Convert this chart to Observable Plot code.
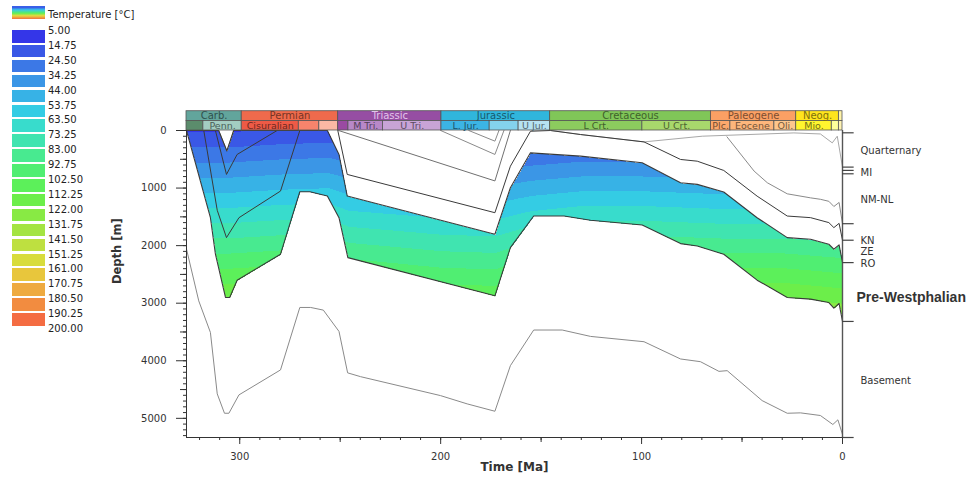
<!DOCTYPE html>
<html>
<head>
<meta charset="utf-8">
<script src="https://cdn.jsdelivr.net/npm/d3@7"></script>
<script src="https://cdn.jsdelivr.net/npm/@observablehq/plot@0.6"></script>
<style>
  body { margin: 0; background: #fff; font-family: "DejaVu Sans", Verdana, sans-serif; }
  #wrap { position: relative; width: 979px; height: 482px; overflow: hidden; }
  #chart { position: absolute; left: 0; top: 0; }
  #legend { position: absolute; left: 0; top: 0; width: 170px; height: 345px; font-size: 10px; color: #222; white-space: nowrap; }
  #legend .sw { position: absolute; left: 12px; width: 33px; height: 12.5px; }
  #legend .lb { position: absolute; left: 48px; line-height: 12px; transform: translateY(-50%); }
  #legend .head { position: absolute; left: 12px; top: 6px; width: 33px; height: 13px;
    background: linear-gradient(#3a5fe8 0 12%, #38c8e8 30%, #5af05a 55%, #e8d83c 75%, #f07040 100%); }
  #legend .title { position: absolute; left: 48px; top: 14px; transform: translateY(-50%); font-size: 10px; }
</style>
</head>
<body>
<div id="wrap"><div id="chart"></div><div id="legend"></div></div>
<script>
// ---------- temperature classes ----------
const legendValues = ["5.00","14.75","24.50","34.25","44.00","53.75","63.50","73.25","83.00","92.75",
  "102.50","112.25","122.00","131.75","141.50","151.25","161.00","170.75","180.50","190.25","200.00"];
const legendColors = ["#3436e8","#3a58e6","#3c78e6","#3b96e6","#37b2e6","#34cce4","#38dccc","#40e4b0",
  "#48ea90","#50ee72","#5cf05a","#6cee4a","#88ea44","#a4e442","#bee040","#d8dc3c","#e8c63c","#eeaa40",
  "#f28c40","#f46c42"];

// ---------- geological time scale (Ma) ----------
const periodNames  = ["Carb.","Permian","Triassic","Jurassic","Cretaceous","Paleogene","Neog.",""];
const periodStart  = [326.5, 299.0, 251.0, 199.6, 145.5, 65.5, 23.03, 1.8];
const periodEnd    = [299.0, 251.0, 199.6, 145.5, 65.5, 23.03, 1.8, 0];
const periodColors = ["#62a59c","#ef6a4c","#964ea3","#30b6dc","#80c658","#fba064","#ffe41e","#fff3a8"];

const epochNames  = ["","Penn.","Cisuralian","","","","M Tri.","U Tri.","L. Jur.","","U Jur.","L Crt.","U Crt.","Plc.","Eocene","Oli.","Mio.","",""];
const epochStart  = [326.5,318.1,299.0,270.6,260.4,251.0,245.9,228.7,199.6,175.6,161.2,145.5,99.6,65.5,55.8,33.9,23.03,5.33,1.8];
const epochEnd    = [318.1,299.0,270.6,260.4,251.0,245.9,228.7,199.6,175.6,161.2,145.5,99.6,65.5,55.8,33.9,23.03,5.33,1.8,0];
const epochColors = ["#5b8c6c","#a3cdc2","#ee5a46","#f7846c","#fbb8a4","#9a4aa2","#b888c8","#c8a4d6",
  "#3cb4e4","#84d2ec","#b6e2f2","#8ccc5e","#a8d86c","#fda86c","#fdb67c","#fdc68c","#fff52e","#ffff9a","#fff3b4"];

// ---------- burial history: horizons as [age Ma, depth m] ----------
const layerTop = [[326.5,0],[310.5,0],[306.4,355],[303.0,0],[256.4,0],[250.6,417],[246.5,1139],[173.0,1803],
  [165.3,995],[155.3,388],[130.4,445],[99.7,561],[80.6,908],[72.3,936],[59.1,1069],[42.5,1515],[27.5,1861],
  [15.9,1889],[6.8,1976],[4.3,2062],[1.7,1988],[0,2290]];
const layerBase = [[326.5,0],[314.6,1515],[312.1,2149],[307.1,2901],[305.0,2901],[301.3,2600],[279.7,2149],
  [270.1,1064],[265.1,1064],[256.4,1139],[250.6,1515],[246.2,2208],[173.0,2872],[165.3,2035],[153.7,1485],
  [138.6,1485],[125.4,1560],[99.7,1641],[80.6,1965],[72.3,2005],[59.1,2149],[42.5,2600],[27.5,2901],
  [15.9,2929],[6.8,2988],[4.3,3085],[1.7,3005],[0,3317]];
const basementBase = [[326.5,2060],[320.4,2960],[314.6,3508],[311.2,4575],[307.6,4912],[305.4,4912],[300.4,4593],
  [279.7,4159],[270.1,3074],[264.7,3074],[258.4,3120],[250.6,3490],[246.3,4210],[239.9,4276],[200.1,4605],
  [186.8,4749],[173.0,4877],[165.3,4085],[153.7,3466],[139.5,3466],[125.4,3577],[98.8,3669],[80.6,3969],
  [70.7,4016],[61.5,4184],[57.4,4172],[40.0,4692],[27.5,4912],[20.9,4905],[11.0,4951],[4.8,5107],[2.3,5026],[0,5280]];
const carbHorizonA = [[317.9,0],[311.2,1386],[306.6,1861],[300.4,1515],[279.7,1052],[270.1,0]];
const carbHorizonB = [[312.1,0],[306.6,763],[301.3,416],[281.4,0]];
const carbErosion  = [[310.5,0],[306.4,355],[303.0,0]];
// top of the Triassic: follows the shaded layer ~375 m above it until today
const triasTop = [[251.2,0],[246.5,763],[173.0,1428],[165.3,620],[155.3,13],[145.3,0],[130.4,70],[98.8,198],
  [80.6,503],[72.3,533],[59.1,694],[42.5,1140],[27.5,1486],[15.9,1514],[6.8,1600],[4.3,1687],[1.7,1613],[0,1906]];
const triasMid  = [[250.8,0],[173.0,876],[165.3,0]];
const jurassicA = [[200.0,0],[173.0,416],[168.5,0]];
const jurassicB = [[186.0,0],[173.0,185],[171.0,0]];
const chalkTop  = [[145.3,0],[130.4,70],[98.8,198],[69.8,99],[24.2,42],[11.0,60],[5.1,215],[2.6,99],[0,636]];
const tertiaryTop = [[57.5,110],[44.0,705],[37.4,908],[27.5,1100],[15.9,1170],[11.0,1195],[6.8,1230],[4.3,1320],[1.7,1250],[0,1619]];

// ---------- paleo-temperature: surface temperature and gradient through time ----------
const thermalAges    = [326.5, 305, 280, 256, 246, 200, 173, 155, 130, 100, 60, 30, 0];
const surfaceTemp    = [14, 14, 16, 17, 15, 12, 11, 12, 14, 14, 12, 12, 11];
const thermalGrad    = [37, 37, 37, 37, 35, 34, 34, 37, 38, 38, 38, 38, 37]; // °C per km

// ---------- present-day formations (right margin) ----------
const formNames  = ["Quarternary","MI","NM-NL","KN","ZE","RO","Basement"];
const formDepths = [358, 735, 1208, 1919, 2109, 2312, 4345];
const formTicks  = [40, 636, 693, 752, 1619, 1906, 2295, 3317, 5333];

// ---------- derived ----------
const X0 = 326.5, Y1 = 5333;
const BAR_TOP = -335, BAR_MID = -165, BAR_BOTTOM = 0;
const thresholds = legendValues.slice(1, -1).map(Number);
const regionPolygon = [...layerTop, ...layerBase.slice().reverse()];
const gAt = d3.scaleLinear().domain(thermalAges.slice().reverse()).range(thermalGrad.slice().reverse()).clamp(true);
const tAt = d3.scaleLinear().domain(thermalAges.slice().reverse()).range(surfaceTemp.slice().reverse()).clamp(true);
const temperature = (age, depth) =>
  d3.polygonContains(regionPolygon, [age, depth]) ? tAt(age) + gAt(age) * depth / 1000 : undefined;

const toRows = pts => pts.map(([age, depth]) => ({age, depth}));
const dark = "#3a3a3a", grey = "#8a8a8a", light = "#a8a8a8";
const line = (pts, stroke, w = 1) => Plot.line(toRows(pts), {x: "age", y: "depth", stroke, strokeWidth: w});

const chart = Plot.plot({
  width: 979, height: 482,
  marginLeft: 186, marginRight: 137, marginTop: 130, marginBottom: 45,
  style: {fontFamily: "'DejaVu Sans', Verdana, sans-serif", fontSize: "10px", color: "#333", background: "transparent"},
  x: {domain: [X0, 0], axis: null},
  y: {domain: [0, Y1], reverse: true, axis: null},
  color: {type: "threshold", domain: thresholds, range: legendColors},
  marks: [
    Plot.raster({x1: X0, x2: 0, y1: 0, y2: Y1, fill: temperature, pixelSize: 1, imageRendering: "pixelated"}),
    line(carbErosion, grey), line(triasMid, "#707070"), line(jurassicA, grey), line(jurassicB, grey),
    line(chalkTop, light), line(tertiaryTop, grey),
    line(basementBase, grey),
    line(triasTop, dark), line(carbHorizonA, dark), line(carbHorizonB, dark),
    line(layerTop, dark, 1.1), line(layerBase, dark, 1.1),
    // time scale bar
    ...periodNames.map((n, i) => Plot.rect([i], {x1: periodStart[i], x2: periodEnd[i], y1: BAR_TOP, y2: BAR_MID,
      fill: periodColors[i], stroke: "#555", strokeWidth: 0.8})),
    ...epochNames.map((n, i) => Plot.rect([i], {x1: epochStart[i], x2: epochEnd[i], y1: BAR_MID, y2: BAR_BOTTOM,
      fill: epochColors[i], stroke: "#555", strokeWidth: 0.8})),
    ...periodNames.map((n, i) => Plot.text([n], {x: (periodStart[i] + periodEnd[i]) / 2, y: (BAR_TOP + BAR_MID) / 2,
      text: d => d, fontSize: 10, fill: i === 2 ? "#e2c4ea" : d3.color(periodColors[i]).darker(2).formatHex()})),
    ...epochNames.map((n, i) => Plot.text([n], {x: (epochStart[i] + epochEnd[i]) / 2, y: (BAR_MID + BAR_BOTTOM) / 2,
      text: d => d, fontSize: 9.5, fill: d3.color(epochColors[i]).darker(2.2).formatHex()})),
    // axes
    Plot.ruleX([X0], {y1: 0, y2: Y1, stroke: "#333"}),
    Plot.ruleY([Y1], {x1: X0, x2: 0, stroke: "#333"}),
    Plot.axisY(d3.range(0, 5400, 100), {tickSize: 3, tickFormat: () => "", label: null}),
    Plot.axisY(d3.range(500, 5400, 1000), {tickSize: 6, tickFormat: () => "", label: null}),
    Plot.axisY(d3.range(0, 5001, 1000), {tickSize: 10, tickPadding: 10, tickFormat: d => String(d), label: null, fontSize: 10}),
    Plot.axisX(d3.range(0, 327, 10), {tickSize: 3, tickFormat: () => "", label: null}),
    Plot.axisX(d3.range(50, 327, 100), {tickSize: 5, tickFormat: () => "", label: null}),
    Plot.axisX(d3.range(0, 301, 100), {tickSize: 7, tickPadding: 8, tickFormat: d => String(d), label: null, fontSize: 10}),
    Plot.text(["Depth [m]"], {frameAnchor: "left", dx: -69, rotate: -90, fontWeight: "bold", fontSize: 11.5}),
    Plot.text(["Time [Ma]"], {frameAnchor: "bottom", dy: 33, fontWeight: "bold", fontSize: 12}),
    // present-day formation column
    Plot.ruleX([0], {y1: 0, y2: Y1, stroke: "#555", strokeWidth: 1.4}),
    Plot.ruleY(formTicks, {x1: 0, x2: -5.8, stroke: "#444", strokeWidth: 1.2}),
    Plot.text(formNames, {x: () => 0, y: (d, i) => formDepths[i], text: d => d, dx: 18, textAnchor: "start", fontSize: 10, fill: "#333"}),
    Plot.text(["Pre-Westphalian"], {x: () => 0, y: () => 2901, text: d => d, dx: 14, textAnchor: "start",
      fontSize: 14, fontWeight: "bold", fontFamily: "'Liberation Sans', Arial, sans-serif", fill: "#333"})
  ]
});
document.getElementById("chart").appendChild(chart);

// ---------- legend ----------
const legend = document.getElementById("legend");
legend.innerHTML = `<div class="head"></div><div class="title">Temperature [°C]</div>` +
  legendColors.map((c, i) => `<div class="sw" style="top:${30 + i * 14.9}px;background:${c}"></div>`).join("") +
  legendValues.map((v, i) => `<div class="lb" style="top:${31 + i * 14.9}px">${v}</div>`).join("");
</script>
</body>
</html>
